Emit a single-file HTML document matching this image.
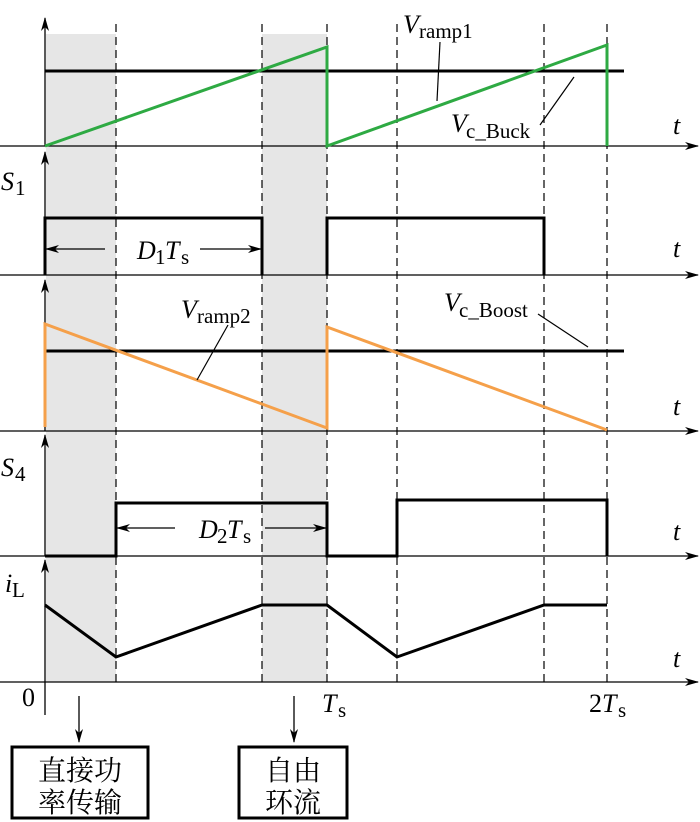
<!DOCTYPE html>
<html><head><meta charset="utf-8"><style>body{margin:0;background:#fff}svg{display:block}
text{font-family:"Liberation Serif","Noto Serif CJK SC",serif;fill:#000}</style></head><body>
<svg width="700" height="822" viewBox="0 0 700 822" xmlns="http://www.w3.org/2000/svg">
<defs><marker id="a" markerWidth="14" markerHeight="8" refX="13" refY="4" orient="auto" markerUnits="userSpaceOnUse"><path d="M0,0 L14,4 L0,8 L4,4z" fill="#000"/></marker></defs>
<rect x="46" y="34" width="70" height="648" fill="#e6e6e6"/>
<rect x="262" y="34" width="65" height="648" fill="#e6e6e6"/>
<g stroke="#000" stroke-width="1.2" stroke-dasharray="8,5" fill="none">
<line x1="116" y1="24" x2="116" y2="682"/><line x1="262" y1="24" x2="262" y2="682"/><line x1="327" y1="24" x2="327" y2="682"/>
<line x1="397" y1="24" x2="397" y2="682"/><line x1="544" y1="24" x2="544" y2="682"/><line x1="607" y1="24" x2="607" y2="682"/></g>
<g stroke="#000" stroke-width="1.3" fill="none" marker-end="url(#a)">
<line x1="0" y1="146" x2="698" y2="146"/><line x1="0" y1="275" x2="698" y2="275"/><line x1="0" y1="431" x2="698" y2="431"/><line x1="0" y1="556" x2="698" y2="556"/><line x1="0" y1="682" x2="698" y2="682"/>
<line x1="45" y1="146" x2="45" y2="18"/><line x1="45" y1="275" x2="45" y2="152"/><line x1="45" y1="431" x2="45" y2="280"/><line x1="45" y1="556" x2="45" y2="435"/><line x1="45" y1="715" x2="45" y2="560"/>
<line x1="79" y1="696" x2="79" y2="742"/><line x1="294" y1="696" x2="294" y2="742"/>
<line x1="105" y1="249" x2="46" y2="249"/><line x1="200" y1="249" x2="261" y2="249"/>
<line x1="175" y1="528" x2="117" y2="528"/><line x1="265" y1="528" x2="326" y2="528"/></g>
<g stroke="#000" stroke-width="3" fill="none">
<line x1="45" y1="71" x2="624" y2="71"/><line x1="45" y1="351" x2="624" y2="351"/>
<polyline points="45,275 45,218 262,218 262,275"/><polyline points="327,275 327,218 544,218 544,275"/>
<polyline points="45,556 116,556 116,503 327,503 327,556 397,556 397,500 607,500 607,556"/>
<polyline points="45,605 116,657 262,605 327,605 397,657 544,605 607,605"/></g>
<g stroke="#2eaa43" stroke-width="3" fill="none"><polyline points="45,146 327,47 327,146 607,45 607,146"/></g>
<g stroke="#f5a04a" stroke-width="3" fill="none"><polyline points="45,427 45,324 327,428 327,327 607,430"/></g>
<g stroke="#000" stroke-width="1.2"><line x1="440" y1="42" x2="437" y2="101"/><line x1="540" y1="125" x2="574" y2="77"/><line x1="538" y1="314" x2="588" y2="347"/><line x1="228" y1="325" x2="197" y2="380"/></g>
<g font-size="26">
<text x="403" y="33" font-style="italic">V</text><text x="419" y="38" font-size="21">ramp1</text>
<text x="451" y="132" font-style="italic">V</text><text x="466" y="138" font-size="21">c_Buck</text>
<text x="444" y="311" font-style="italic">V</text><text x="459" y="317" font-size="21">c_Boost</text>
<text x="181" y="318" font-style="italic">V</text><text x="197" y="323" font-size="21">ramp2</text>
<text x="137" y="259" font-style="italic">D</text><text x="155" y="264" font-size="21">1</text><text x="165" y="259" font-style="italic">T</text><text x="181" y="264" font-size="21">s</text>
<text x="199" y="538" font-style="italic">D</text><text x="217" y="543" font-size="21">2</text><text x="227" y="538" font-style="italic">T</text><text x="243" y="543" font-size="21">s</text>
<text x="1" y="190" font-style="italic">S</text><text x="15" y="195" font-size="21">1</text>
<text x="1" y="476" font-style="italic">S</text><text x="15" y="481" font-size="21">4</text>
<text x="5" y="592" font-style="italic">i</text><text x="12" y="597" font-size="21">L</text>
<text x="22" y="706">0</text>
<text x="322" y="712" font-style="italic">T</text><text x="338" y="717" font-size="21">s</text>
<text x="589" y="712">2</text><text x="602" y="712" font-style="italic">T</text><text x="618" y="717" font-size="21">s</text>
<text x="673" y="134" font-style="italic">t</text><text x="673" y="257" font-style="italic">t</text><text x="673" y="415" font-style="italic">t</text><text x="673" y="540" font-style="italic">t</text><text x="673" y="667" font-style="italic">t</text>
</g>
<rect x="12" y="747" width="136" height="71" fill="none" stroke="#000" stroke-width="3"/>
<rect x="239" y="747" width="108" height="71" fill="none" stroke="#000" stroke-width="3"/>
<g font-size="28" text-anchor="middle" style="font-family:'Noto Serif CJK SC','Noto Sans CJK SC',serif">
<text x="80" y="780">直接功</text><text x="80" y="812">率传输</text>
<text x="293" y="780">自由</text><text x="293" y="812">环流</text></g>
</svg></body></html>
